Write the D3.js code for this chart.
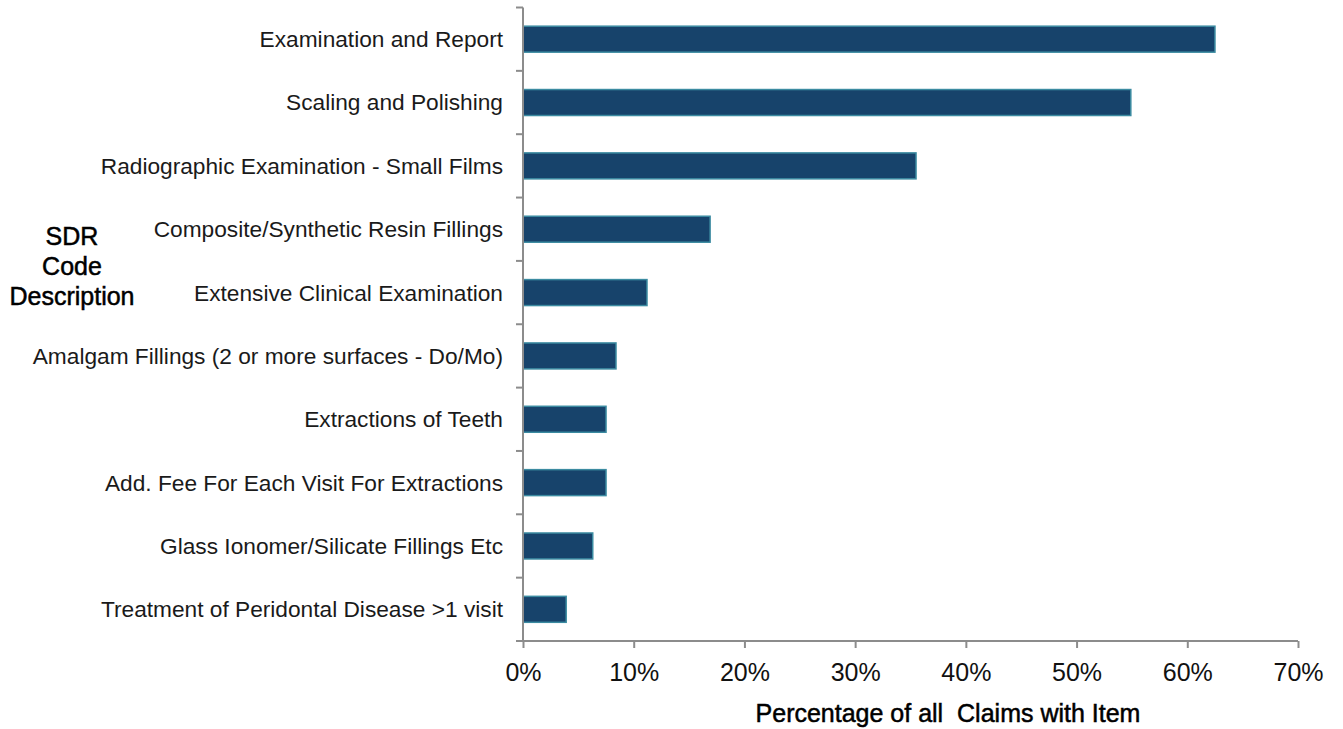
<!DOCTYPE html>
<html>
<head>
<meta charset="utf-8">
<script src="https://cdn.jsdelivr.net/npm/d3@7"></script>
<style>
  html, body { margin: 0; padding: 0; background: #fff; }
  svg { display: block; }
</style>
</head>
<body>
<script>
// Share of all claims containing each SDR item
const categories = [
  "Examination and Report",
  "Scaling and Polishing",
  "Radiographic Examination - Small Films",
  "Composite/Synthetic Resin Fillings",
  "Extensive Clinical Examination",
  "Amalgam Fillings (2 or more surfaces - Do/Mo)",
  "Extractions of Teeth",
  "Add. Fee For Each Visit For Extractions",
  "Glass Ionomer/Silicate Fillings Etc",
  "Treatment of Peridontal Disease >1 visit"
];
const values = [62.5, 54.9, 35.5, 16.9, 11.2, 8.4, 7.5, 7.5, 6.3, 3.9];
const xTicks = [0, 10, 20, 30, 40, 50, 60, 70];

const W = 1343, H = 729;
const margin = { left: 523, right: 45, top: 7.5, bottom: 88 };
const font = "Liberation Sans, Arial, sans-serif";

const svg = d3.select("body").append("svg")
  .attr("width", W).attr("height", H);

const x = d3.scaleLinear().domain([0, 70]).range([margin.left, W - margin.right]);
const y = d3.scaleBand().domain(categories)
  .range([margin.top, H - margin.bottom])
  .paddingInner(0.59).paddingOuter(0.295);

const axisColor = "#8c8c8c";

// bars
svg.append("g").selectAll("rect")
  .data(values)
  .join("rect")
  .attr("x", x(0))
  .attr("y", (d, i) => y(categories[i]))
  .attr("width", d => x(d) - x(0))
  .attr("height", y.bandwidth())
  .attr("fill", "#17436b")
  .attr("stroke", "#3b8ba1")
  .attr("stroke-width", 1.5);

// category axis with ticks between bands
const yAxis = svg.append("g");
const y0 = margin.top, y1 = H - margin.bottom;
yAxis.append("line")
  .attr("x1", x(0)).attr("x2", x(0))
  .attr("y1", y0).attr("y2", y1)
  .attr("stroke", axisColor).attr("stroke-width", 2);
yAxis.selectAll("line.tk")
  .data(d3.range(categories.length + 1))
  .join("line").attr("class", "tk")
  .attr("x1", x(0) - 7).attr("x2", x(0))
  .attr("y1", i => y0 + i * (y1 - y0) / categories.length)
  .attr("y2", i => y0 + i * (y1 - y0) / categories.length)
  .attr("stroke", axisColor).attr("stroke-width", 2);
yAxis.selectAll("text")
  .data(categories)
  .join("text")
  .attr("x", x(0) - 20)
  .attr("y", d => y(d) + y.bandwidth() / 2)
  .attr("dy", "0.35em")
  .attr("text-anchor", "end")
  .attr("font-family", font)
  .attr("font-size", 22.7)
  .attr("fill", "#1a1a1a")
  .text(d => d);

// value axis
const xAxis = svg.append("g").attr("transform", `translate(0,${y1})`)
  .call(d3.axisBottom(x).tickValues(xTicks).tickFormat(d => d + "%").tickSize(7).tickSizeOuter(0));
xAxis.select(".domain").attr("stroke", axisColor).attr("stroke-width", 2)
  .attr("d", `M${x(0) - 7},0H${x(70)}`);
xAxis.selectAll(".tick line").attr("stroke", axisColor).attr("stroke-width", 2);
xAxis.selectAll(".tick text")
  .attr("font-family", font)
  .attr("font-size", 25)
  .attr("fill", "#111")
  .attr("dy", "1.2em");

// axis titles
svg.append("text")
  .attr("x", 948).attr("y", 722)
  .attr("text-anchor", "middle")
  .attr("font-family", font)
  .attr("font-size", 25)
  .attr("fill", "#000")
  .attr("stroke", "#000").attr("stroke-width", 0.5)
  .attr("xml:space", "preserve")
  .text("Percentage of all  Claims with Item");

const yTitle = svg.append("text")
  .attr("text-anchor", "middle")
  .attr("font-family", font)
  .attr("font-size", 25)
  .attr("fill", "#000")
  .attr("stroke", "#000").attr("stroke-width", 0.5);
["SDR", "Code", "Description"].forEach((t, i) => {
  yTitle.append("tspan").attr("x", 72).attr("y", 245 + i * 30).text(t);
});
</script>
</body>
</html>
